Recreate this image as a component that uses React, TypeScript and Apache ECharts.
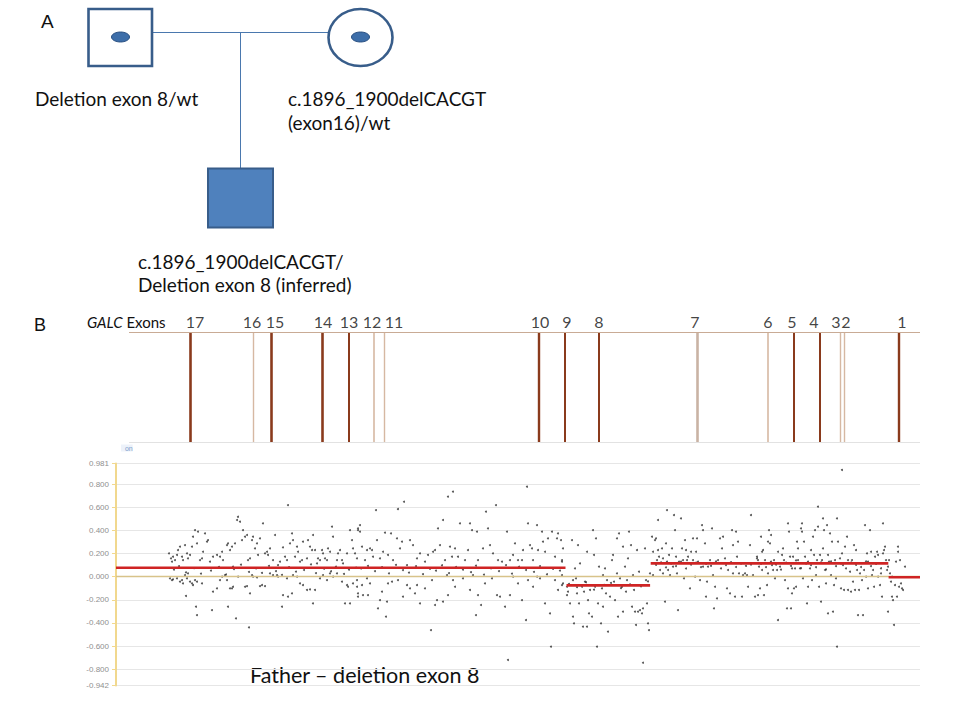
import React, { useEffect, useRef } from "react";
import * as echarts from "echarts";

// ---------- DATA ----------
// GALC exon positions (same horizontal units as the probe positions below)
const EXON_NAMES = ["17", "16", "15", "14", "13", "12", "11", "10", "9", "8", "7", "6", "5", "4", "3", "2", "1"];
const EXON_POS = [74, 137, 155, 206, 233, 258, 268, 423, 449, 483, 581, 652, 678, 704, 724, 728, 783];

// segmented mean log-ratio
const SEG_START = [0, 450.5, 534.7, 772.6];
const SEG_END = [449.5, 534.1, 772.3, 804];
const SEG_MEAN = [0.078, -0.075, 0.115, -0.005];

// y axis tick values
const Y_TICKS = [0.981, 0.8, 0.6, 0.4, 0.2, 0, -0.2, -0.4, -0.6, -0.8, -0.942];
const Y_MIN = -0.942;
const Y_MAX = 0.981;
const X_MIN = 0;
const X_MAX = 804;

// probe log-ratios [position, ratio]
const PROBES_A: [number, number][] = [
  [53, 0.202], [55, 0.159], [56, 0.13], [57, 0.173], [59, 0.144], [61, 0.188], [62, 0.231], [64, 0.26], [66, 0.173], [67, 0.144],
  [69, 0.274], [71, 0.202], [72, 0.159], [74, 0.188], [76, 0.26], [77, 0.346], [79, 0.404], [81, 0.289], [82, 0.39], [84, 0.144],
  [86, 0.159], [87, 0.216], [89, 0.375], [91, 0.303], [92, 0.317], [94, 0.13], [97, 0.173], [101, 0.188], [104, 0.173], [106, 0.216],
  [107, 0.144], [111, 0.274], [112, 0.289], [114, 0.231], [116, 0.26], [117, 0.087], [119, 0.289], [121, 0.491], [122, 0.519], [124, 0.476],
  [126, 0.317], [127, 0.404], [129, 0.346], [131, 0.361], [132, 0.144], [134, 0.159], [136, 0.317], [137, 0.346], [139, 0.245], [141, 0.289],
  [142, 0.188], [144, 0.332], [147, 0.462], [149, 0.202], [151, 0.216], [152, 0.188], [154, 0.245], [157, 0.144], [159, 0.361], [162, 0.101],
  [164, 0.13], [167, 0.254], [169, 0.173], [171, 0.144], [172, 0.62], [174, 0.289], [176, 0.375], [177, 0.317], [179, 0.173], [181, 0.26],
  [182, 0.216], [184, 0.13], [186, 0.144], [187, 0.303], [191, 0.159], [192, 0.317], [194, 0.26], [196, 0.231], [197, 0.361], [199, 0.231],
  [201, 0.115], [202, 0.159], [204, 0.144], [206, 0.231], [207, 0.202], [209, 0.159], [211, 0.144], [212, 0.245], [214, 0.216], [216, 0.433],
  [217, 0.346], [221, 0.144], [222, 0.202], [224, 0.231], [226, 0.144], [227, 0.115], [231, 0.202], [234, 0.404], [236, 0.317], [237, 0.245],
  [239, 0.202], [241, 0.159], [242, 0.418], [244, 0.39],
  [58, 0.062], [63, 0.091], [70, 0.038], [78, 0.074], [85, 0.027], [95, 0.053], [103, 0.085], [110, 0.019], [118, 0.066], [125, 0.104],
  [133, 0.041], [140, 0.072], [146, 0.033], [153, 0.094], [160, 0.049], [166, 0.016], [173, 0.083], [180, 0.044], [188, 0.058], [195, 0.107],
  [200, 0.031], [208, 0.069], [215, 0.047], [220, 0.088], [228, 0.024], [233, 0.061], [240, 0.079],
  [54, -0.014], [56, -0.029], [57, -0.023], [61, -0.014], [64, -0.043], [66, -0.029], [67, -0.058], [69, 0.014], [71, -0.014], [72, 0.029],
  [74, -0.043], [76, -0.058], [77, -0.072], [79, -0.029], [81, -0.043], [86, -0.058], [70, -0.167], [80, -0.26], [81, -0.332], [96, -0.289],
  [97, -0.13], [101, -0.101], [104, -0.029], [106, 0.0], [109, 0.014], [111, -0.029], [112, -0.26], [114, -0.101], [116, -0.101], [117, -0.087],
  [120, -0.361], [122, 0.0], [129, -0.087], [131, -0.081], [133, -0.439], [134, -0.144], [136, 0.014], [137, 0.0], [141, -0.006], [144, -0.081],
  [146, -0.072], [149, -0.081], [154, 0.029], [157, 0.014], [161, 0.014], [162, 0.0], [166, -0.26], [167, -0.159], [171, -0.014], [172, -0.173],
  [176, -0.144], [177, 0.014], [181, 0.0], [184, -0.058], [187, -0.072], [191, -0.115], [194, -0.11], [197, -0.231], [199, -0.115], [204, -0.014],
  [207, 0.014], [211, -0.029], [214, 0.029], [217, 0.0], [221, 0.029], [226, -0.043], [229, -0.231], [231, -0.072], [232, -0.087], [234, -0.231],
  [237, -0.058], [241, -0.029], [242, -0.173],
];

const PROBES_B: [number, number][] = [
  [242, 0.404], [244, 0.447], [246, 0.26], [249, 0.144], [251, 0.231], [254, 0.245], [256, 0.231], [257, 0.173], [260, 0.577], [261, 0.317],
  [264, 0.159], [267, 0.216], [269, 0.381], [272, 0.188], [275, 0.375], [277, 0.144], [281, 0.332], [282, 0.586], [284, 0.245], [286, 0.303],
  [288, 0.649], [291, 0.101], [294, 0.317], [297, 0.274], [301, 0.159], [304, 0.202], [309, 0.13], [312, 0.188], [317, 0.216], [319, 0.231],
  [322, 0.418], [324, 0.274], [327, 0.491], [329, 0.144], [332, 0.693], [334, 0.26], [337, 0.736], [336, 0.173], [339, 0.245], [342, 0.173],
  [344, 0.462], [349, 0.144], [352, 0.231], [354, 0.462], [356, 0.404], [361, 0.39], [362, 0.144], [367, 0.245], [370, 0.563], [372, 0.418],
  [374, 0.274], [377, 0.202], [380, 0.62], [382, 0.144], [386, 0.13], [391, 0.39], [394, 0.144], [397, 0.188], [399, 0.289], [402, 0.144],
  [406, 0.144], [407, 0.231], [411, 0.779], [412, 0.462], [414, 0.274], [416, 0.245], [417, 0.144], [421, 0.447], [422, 0.231], [426, 0.39],
  [427, 0.303], [429, 0.216], [432, 0.332], [436, 0.39], [439, 0.173], [441, 0.332], [442, 0.375], [446, 0.144],
  [245, 0.071], [252, 0.093], [259, 0.048], [266, 0.082], [273, 0.029], [280, 0.103], [287, 0.057], [293, 0.036], [300, 0.091], [307, 0.022],
  [314, 0.068], [320, 0.052], [326, 0.099], [333, 0.031], [340, 0.084], [347, 0.061], [355, 0.039], [360, 0.095], [368, 0.018], [375, 0.073],
  [383, 0.049], [390, 0.101], [396, 0.027], [403, 0.086], [410, 0.058], [418, 0.042], [424, 0.092], [431, 0.021], [437, 0.067], [444, 0.053],
  [241, -0.087], [242, -0.144], [246, -0.072], [247, -0.159], [251, -0.014], [252, -0.159], [254, -0.058], [262, -0.274], [264, -0.202], [266, -0.13],
  [270, -0.346], [271, -0.216], [272, -0.058], [276, -0.043], [282, -0.029], [287, -0.173], [291, -0.072], [294, -0.101], [299, -0.144], [301, -0.072],
  [304, -0.231], [309, -0.101], [315, -0.462], [316, -0.029], [319, -0.245], [321, -0.202], [327, -0.216], [331, 0.014], [332, -0.159], [337, -0.029],
  [339, -0.087], [347, -0.014], [354, -0.115], [357, 0.014], [360, -0.332], [362, -0.159], [365, -0.245], [369, -0.058], [376, -0.014], [381, -0.159],
  [384, -0.173], [389, -0.26], [392, -0.721], [394, -0.159], [397, 0.0], [402, -0.058], [406, -0.202], [410, -0.375], [412, -0.029], [417, -0.087],
  [421, 0.0], [424, -0.014], [429, -0.231], [434, -0.318], [435, -0.606], [439, -0.029], [442, -0.115], [446, -0.072],
];

const PROBES_C: [number, number][] = [
  [445, 0.317], [446, 0.13], [447, 0.245], [446, 0.014], [447, -0.058],
  [451, -0.087], [451, -0.159], [452, -0.13], [454, -0.231], [456, 0.317], [457, -0.346], [457, -0.029], [458, -0.404], [459, 0.072], [460, -0.014],
  [461, -0.144], [462, 0.274], [463, -0.231], [464, 0.115], [466, -0.087], [467, -0.433], [468, -0.13], [469, -0.043], [471, -0.433], [471, 0.216],
  [472, -0.202], [473, -0.317], [474, -0.115], [476, -0.346], [477, 0.404], [478, 0.188], [479, -0.087], [480, 0.332], [481, -0.606], [482, -0.231],
  [483, 0.087], [485, -0.404], [486, -0.101], [487, -0.26], [487, 0.014], [489, 0.072], [490, -0.144], [491, -0.029], [492, -0.476], [494, -0.173],
  [496, 0.144], [497, 0.188], [498, -0.043], [499, -0.202], [501, 0.332], [501, 0.029], [502, -0.346], [503, 0.375], [504, -0.014], [506, -0.087],
  [507, -0.303], [507, 0.26], [509, 0.087], [510, -0.13], [511, -0.029], [512, 0.159], [513, 0.39], [515, 0.274], [516, -0.26], [517, 0.014],
  [518, -0.115], [519, -0.303], [520, -0.418], [521, 0.231], [522, -0.303], [523, 0.043], [524, -0.289], [526, -0.317], [527, -0.745], [527, -0.274],
  [529, 0.245], [530, -0.029], [531, -0.231], [532, -0.404], [533, -0.462], [534, 0.029],
  [453, -0.062], [461, -0.091], [470, -0.048], [478, -0.112], [488, -0.071], [495, -0.054], [505, -0.098], [514, -0.066], [525, -0.083], [532, -0.041],
];

const PROBES_D: [number, number][] = [
  [536, 0.346], [537, 0.216], [537, 0.014], [539, 0.317], [540, 0.332], [541, 0.144], [542, 0.491], [542, 0.231], [543, 0.173], [544, 0.058],
  [546, 0.245], [547, 0.159], [547, 0.029], [549, -0.216], [550, 0.289], [551, 0.13], [551, 0.577], [552, 0.058], [553, 0.188], [554, 0.014],
  [556, 0.245], [557, 0.087], [558, 0.534], [559, 0.404], [560, 0.173], [561, 0.029], [562, -0.289], [563, 0.13], [565, 0.505], [566, 0.245],
  [567, 0.144], [568, -0.014], [569, 0.317], [570, 0.231], [571, 0.144], [572, 0.173], [574, -0.101], [575, 0.216], [577, 0.144], [577, 0.332],
  [579, 0.0], [580, 0.216], [581, 0.332], [582, 0.13], [584, -0.029], [586, 0.447], [587, 0.404], [587, 0.087], [589, 0.289], [590, -0.173],
  [591, -0.043], [592, 0.087], [594, 0.144], [596, 0.418], [597, 0.014], [598, -0.274], [599, -0.087], [601, -0.188], [602, 0.144], [604, 0.332],
  [606, 0.245], [607, 0.346], [609, 0.159], [611, -0.101], [612, 0.058], [614, -0.144], [616, 0.404], [617, 0.029], [617, 0.274], [619, -0.173],
  [620, 0.39], [621, 0.173], [622, 0.303], [623, 0.029], [626, -0.173], [627, 0.014], [629, 0.029], [631, 0.014], [632, -0.087], [634, 0.274],
  [635, 0.534], [637, 0.014], [639, -0.173], [641, 0.173], [642, 0.144],
  [540, 0.102], [545, 0.124], [550, 0.081], [555, 0.113], [560, 0.092], [565, 0.131], [570, 0.071], [575, 0.104], [580, 0.122], [585, 0.083],
  [590, 0.111], [595, 0.094], [600, 0.133], [605, 0.072], [610, 0.101], [615, 0.126], [620, 0.084], [625, 0.114], [630, 0.093], [635, 0.105],
];

const PROBES_E: [number, number][] = [
  [641, 0.159], [642, -0.159], [643, 0.087], [644, -0.101], [645, 0.346], [646, 0.216], [646, 0.058], [647, 0.231], [648, -0.159], [649, 0.144],
  [651, -0.072], [652, 0.303], [652, 0.029], [653, 0.404], [654, 0.289], [655, 0.361], [656, 0.101], [657, 0.058], [658, 0.144], [659, -0.014],
  [661, 0.058], [662, -0.375], [662, 0.216], [664, 0.087], [666, 0.188], [667, 0.245], [668, 0.144], [669, -0.029], [671, -0.274], [672, 0.462],
  [672, -0.101], [673, 0.39], [674, 0.173], [675, -0.274], [676, -0.144], [676, 0.072], [677, 0.173], [678, -0.101], [679, 0.072], [680, -0.087],
  [681, 0.303], [682, 0.144], [682, 0.245], [684, 0.072], [685, 0.418], [686, 0.462], [686, 0.39], [687, -0.014], [688, 0.303], [689, 0.173],
  [691, -0.231], [692, -0.087], [692, 0.13], [694, 0.072], [695, 0.231], [696, -0.029], [697, 0.346], [698, 0.188], [699, 0.404], [700, 0.014],
  [701, 0.144], [702, 0.433], [702, 0.606], [703, -0.087], [704, 0.188], [705, -0.216], [706, 0.144], [707, 0.505], [707, 0.245], [708, 0.404],
  [709, 0.058], [710, -0.058], [711, 0.447], [712, 0.188], [712, -0.317], [713, 0.13], [714, 0.375], [715, 0.014], [716, 0.303], [717, -0.303],
  [718, -0.072], [719, 0.144], [720, -0.014], [721, 0.505], [721, -0.606], [722, 0.303], [724, 0.159], [725, -0.101], [726, 0.924], [726, 0.202],
  [727, 0.101], [728, -0.115], [729, 0.26], [731, 0.346], [732, -0.115], [732, 0.144], [734, 0.043], [735, -0.13], [736, 0.144], [737, -0.043],
  [738, 0.274], [739, -0.115], [740, 0.231], [741, 0.058], [742, -0.332], [743, -0.115], [744, 0.029], [746, -0.029], [747, -0.332], [748, 0.058],
  [749, 0.447], [750, 0.0], [751, 0.202], [752, -0.101], [752, 0.13], [754, 0.404], [755, 0.216], [756, 0.014], [757, 0.058], [758, -0.087],
  [759, 0.173], [761, 0.216], [762, 0.0], [762, 0.188], [764, -0.072], [765, 0.029], [766, -0.173], [767, 0.462], [767, 0.202], [768, 0.231],
  [769, 0.26], [770, 0.144], [771, 0.058], [772, 0.087],
  [645, 0.112], [650, 0.083], [655, 0.131], [660, 0.104], [665, 0.062], [670, 0.121], [675, 0.093], [680, 0.142], [685, 0.074], [690, 0.113],
  [695, 0.101], [700, 0.082], [705, 0.124], [710, 0.063], [715, 0.132], [720, 0.091], [725, 0.114], [730, 0.072], [735, 0.123], [740, 0.102],
  [745, 0.084], [750, 0.133], [755, 0.092], [760, 0.111], [765, 0.073],
  [772, -0.303], [773, 0.144], [774, 0.029], [775, -0.043], [776, -0.173], [776, 0.0], [777, -0.202], [778, -0.418], [779, -0.072], [780, 0.13],
  [781, -0.173], [782, 0.216], [782, 0.26], [783, -0.087], [784, 0.144], [785, -0.058], [786, -0.101], [787, -0.115], [789, 0.087],
];

// ---------- STYLES ----------
const DARK = "#8a3a1c";
const LIGHT = "#d6b8a2";
const EXON_STYLE: Record<string, { color: string; width: number; dx: number }> = {
  "17": { color: DARK, width: 2.6, dx: 5 },
  "16": { color: LIGHT, width: 1.4, dx: -1 },
  "15": { color: DARK, width: 2.6, dx: 4 },
  "14": { color: DARK, width: 2.6, dx: 1 },
  "13": { color: DARK, width: 2, dx: 0 },
  "12": { color: LIGHT, width: 1.6, dx: -2 },
  "11": { color: LIGHT, width: 1.4, dx: 10 },
  "10": { color: DARK, width: 2.4, dx: 1 },
  "9": { color: DARK, width: 2, dx: 2 },
  "8": { color: DARK, width: 2, dx: 0 },
  "7": { color: "#c9b3a4", width: 2.6, dx: -2 },
  "6": { color: LIGHT, width: 1.6, dx: 0 },
  "5": { color: DARK, width: 2, dx: -2 },
  "4": { color: DARK, width: 2, dx: -6 },
  "3": { color: LIGHT, width: 1.4, dx: -4 },
  "2": { color: LIGHT, width: 1.4, dx: 2 },
  "1": { color: DARK, width: 2.4, dx: 3 },
};

const BLUE_STROKE = "#385d8a";
const BLUE_FILL = "#4f81bd";
const FONT = "Lato";

function buildOption() {
  const exonMarks: any[] = EXON_POS.map((p, i) => ({
    xAxis: p,
    lineStyle: { color: EXON_STYLE[EXON_NAMES[i]].color, width: EXON_STYLE[EXON_NAMES[i]].width, type: "solid" },
  }));
  exonMarks.push({ yAxis: 1, lineStyle: { color: "#c9ab95", width: 1.2, type: "solid" } });
  exonMarks.push({ yAxis: 0, lineStyle: { color: "#e2e2e2", width: 1, type: "solid" } });

  const exonLabels = EXON_POS.map((p, i) => ({
    value: [p, 1],
    name: EXON_NAMES[i],
    label: { offset: [EXON_STYLE[EXON_NAMES[i]].dx, 0] },
  }));

  const allProbes = [...PROBES_A, ...PROBES_B, ...PROBES_C, ...PROBES_D, ...PROBES_E];

  const segSeries = SEG_MEAN.map((m, i) => ({
    type: "line",
    xAxisIndex: 0,
    yAxisIndex: 0,
    data: [
      [SEG_START[i], m],
      [SEG_END[i], m],
    ],
    symbol: "none",
    silent: true,
    z: 5,
    lineStyle: { color: "#cf2424", width: 2.6 },
  }));

  const txt = (text: string, x: number, y: number, size: number, extra: any = {}) => ({
    type: "text",
    x,
    y,
    silent: true,
    style: {
      text,
      fill: "#111",
      fontFamily: FONT,
      fontSize: size,
      textVerticalAlign: "middle",
      ...extra,
    },
  });

  const graphic: any[] = [
    // pedigree
    { type: "line", shape: { x1: 153, y1: 32.5, x2: 328, y2: 32.5 }, style: { stroke: "#4a78ae", lineWidth: 1 } },
    { type: "line", shape: { x1: 240.5, y1: 32.5, x2: 240.5, y2: 168 }, style: { stroke: "#4a78ae", lineWidth: 1 } },
    { type: "rect", shape: { x: 88.5, y: 9, width: 63.5, height: 57 }, style: { fill: "#fff", stroke: BLUE_STROKE, lineWidth: 2.6 } },
    { type: "ellipse", shape: { cx: 120.5, cy: 37, rx: 9, ry: 5 }, style: { fill: "#3d6ea9", stroke: "#2c5283", lineWidth: 1 } },
    { type: "ellipse", shape: { cx: 360.5, cy: 37.5, rx: 32, ry: 28.5 }, style: { fill: "#fff", stroke: BLUE_STROKE, lineWidth: 2.6 } },
    { type: "ellipse", shape: { cx: 360.5, cy: 37, rx: 9, ry: 5 }, style: { fill: "#3d6ea9", stroke: "#2c5283", lineWidth: 1 } },
    { type: "rect", shape: { x: 208, y: 168.5, width: 65, height: 59 }, style: { fill: BLUE_FILL, stroke: BLUE_STROKE, lineWidth: 2 } },
    txt("A", 41, 21, 19, { fontFamily: "Liberation Sans" }),
    txt("Deletion exon 8/wt", 35, 98, 19),
    txt("c.1896_1900delCACGT", 288, 98, 19),
    txt("(exon16)/wt", 288, 122, 19),
    txt("c.1896_1900delCACGT/", 138, 261, 19),
    txt("Deletion exon 8 (inferred)", 138, 284, 19),
    txt("B", 34, 325, 18, { fontFamily: "Liberation Sans" }),
    {
      type: "text",
      x: 87,
      y: 322,
      silent: true,
      style: {
        text: "{i|GALC} Exons",
        fill: "#111",
        fontFamily: FONT,
        fontSize: 15,
        textVerticalAlign: "middle",
        rich: { i: { fontStyle: "italic", fontFamily: FONT, fontSize: 15, fill: "#111" } },
      },
    },
    {
      type: "text",
      x: 121,
      y: 448,
      silent: true,
      style: {
        text: "  on",
        fill: "#7d9fcc",
        fontFamily: "Liberation Sans",
        fontSize: 7,
        textVerticalAlign: "middle",
        backgroundColor: "#edf2fa",
      },
    },
    txt("Father \u2013 deletion exon 8", 250, 675, 21.5),
  ];

  return {
    animation: false,
    backgroundColor: "#ffffff",
    textStyle: { fontFamily: FONT },
    graphic,
    grid: [
      { left: 116, top: 463.4, width: 804, height: 222.1, containLabel: false },
      { left: 129, top: 332, width: 791, height: 110, containLabel: false },
    ],
    xAxis: [
      { type: "value", gridIndex: 0, min: X_MIN, max: X_MAX, show: false },
      { type: "value", gridIndex: 1, min: 13, max: X_MAX, show: false },
    ],
    yAxis: [
      {
        type: "value",
        gridIndex: 0,
        min: Y_MIN,
        max: Y_MAX,
        axisLine: { show: true, lineStyle: { color: "#f1d88e", width: 2 } },
        axisTick: { show: true, length: 4, customValues: Y_TICKS, lineStyle: { color: "#f1d88e" } },
        axisLabel: {
          customValues: Y_TICKS,
          formatter: (v: number) => (Math.abs(v) < 1e-9 ? "0.000" : v.toFixed(3)),
          color: "#8f8f8f",
          fontSize: 8,
          fontFamily: "Liberation Sans",
          margin: 7,
        },
        splitLine: { show: true, lineStyle: { color: "#e6e6e6", width: 1 } },
      },
      { type: "value", gridIndex: 1, min: 0, max: 1, show: false },
    ],
    series: [
      {
        type: "line",
        xAxisIndex: 1,
        yAxisIndex: 1,
        data: [],
        silent: true,
        markLine: {
          silent: true,
          symbol: ["none", "none"],
          label: { show: false },
          data: exonMarks,
        },
      },
      {
        type: "scatter",
        xAxisIndex: 1,
        yAxisIndex: 1,
        data: exonLabels,
        symbolSize: 1,
        silent: true,
        itemStyle: { color: "rgba(0,0,0,0)" },
        label: {
          show: true,
          position: "top",
          distance: 2,
          formatter: "{b}",
          color: "#111",
          fontFamily: FONT,
          fontSize: 16,
        },
      },
      {
        type: "scatter",
        xAxisIndex: 0,
        yAxisIndex: 0,
        data: allProbes,
        symbolSize: 2,
        silent: true,
        z: 4,
        itemStyle: { color: "#2a2a2a" },
        markLine: {
          silent: true,
          symbol: ["none", "none"],
          label: { show: false },
          data: [{ yAxis: 0, lineStyle: { color: "#d8c38a", width: 1.3, type: "solid" } }],
        },
      },
      ...segSeries,
    ],
  };
}

export default function App() {
  const ref = useRef<HTMLDivElement>(null);
  useEffect(() => {
    if (!ref.current) return;
    const chart = echarts.init(ref.current, undefined, { renderer: "svg" });
    chart.setOption(buildOption() as any);
    return () => chart.dispose();
  }, []);
  return (
    <div
      ref={ref}
      style={{ position: "fixed", left: 0, top: 0, width: 960, height: 720, background: "#fff" }}
    />
  );
}
